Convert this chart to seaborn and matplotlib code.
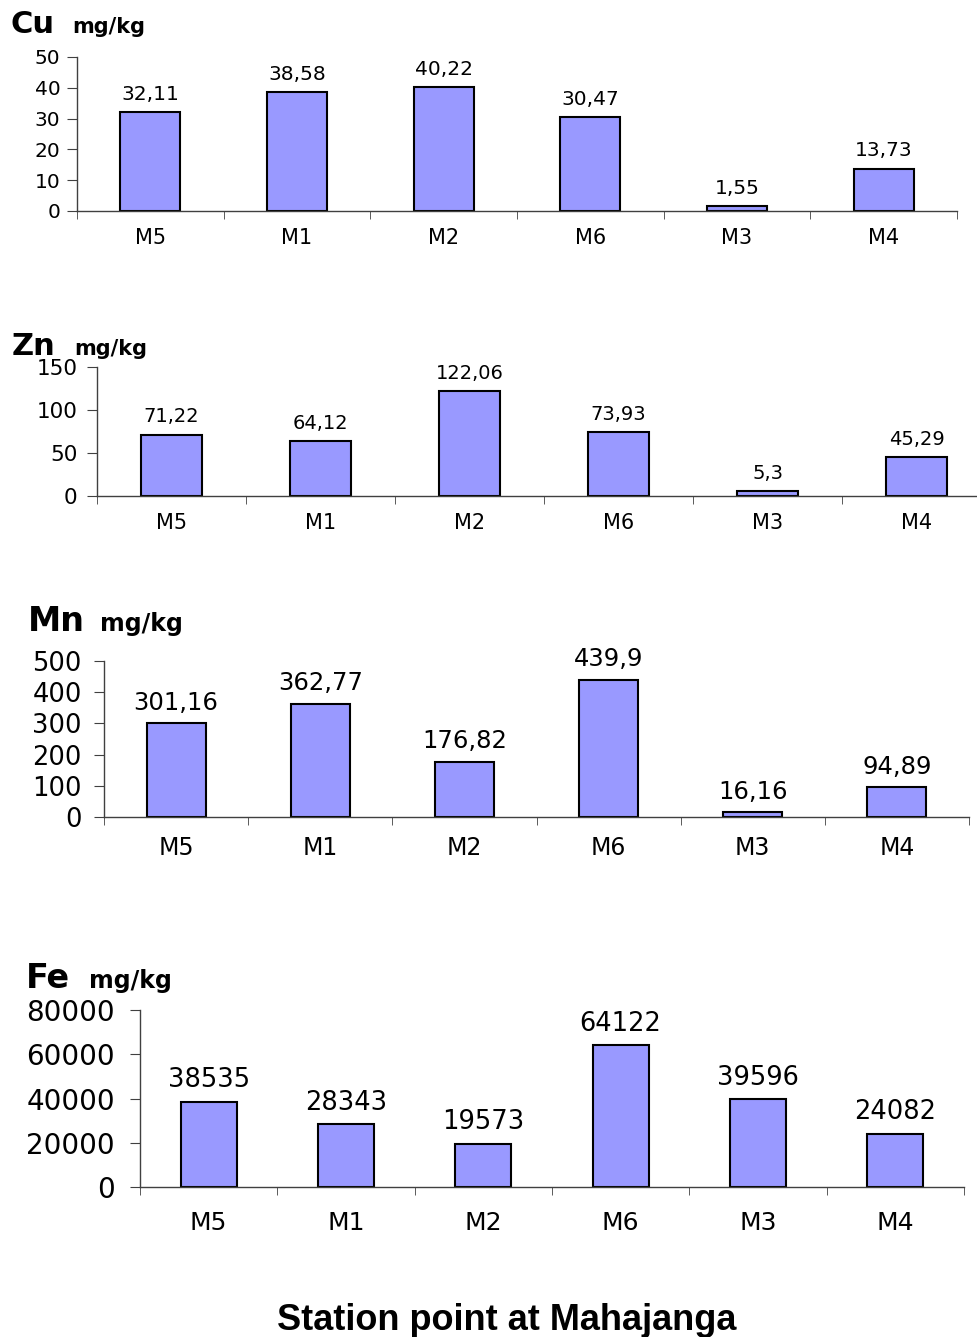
import numpy as np
import pandas as pd
import matplotlib
matplotlib.use('Agg')
import matplotlib.pyplot as plt
import seaborn as sns

# data
stations = ['M5', 'M1', 'M2', 'M6', 'M3', 'M4']
cu = [32.11, 38.58, 40.22, 30.47, 1.55, 13.73]
zn = [71.22, 64.12, 122.06, 73.93, 5.3, 45.29]
mn = [301.16, 362.77, 176.82, 439.9, 16.16, 94.89]
fe = [38535, 28343, 19573, 64122, 39596, 24082]

cu_ticks = [0, 10, 20, 30, 40, 50]
zn_ticks = [0, 50, 100, 150]
mn_ticks = [0, 100, 200, 300, 400, 500]
fe_ticks = [0, 20000, 40000, 60000, 80000]

sns.set_style('white')
plt.rcParams['font.family'] = ['DejaVu Sans']
plt.rcParams['text.color'] = 'black'
plt.rcParams['xtick.color'] = 'black'
plt.rcParams['ytick.color'] = 'black'

W, H = 977, 1337
fig = plt.figure(figsize=(W / 100, H / 100), dpi=100)


def px_axes(x0, y0, x1, y1):
    # axes from pixel box (top-left origin)
    return fig.add_axes([x0 / W, 1 - y1 / H, (x1 - x0) / W, (y1 - y0) / H])


def fmt(v):
    return str(v).replace('.', ',')


# element, values, ticks, axes box, ytick font, ytick pad, xtick font,
# value font, heading pos (x, baseline, unit x), element font, unit font, xtick pad
panels = [
    ('Cu', cu, cu_ticks, (77, 57, 957, 211), 14.5, 5, 15, 14.5, (10, 33, 72), 22, 15, 12),
    ('Zn', zn, zn_ticks, (97, 367, 991, 496), 15.5, 7, 15, 14, (12, 355, 74), 22, 15, 12),
    ('Mn', mn, mn_ticks, (104, 661, 969, 817), 18.5, 9, 17, 17.5, (28, 631, 100), 24, 17, 14),
    ('Fe', fe, fe_ticks, (140, 1010, 964, 1187), 20, 11, 18, 18.5, (26, 988, 89), 24, 17, 17),
]

for name, vals, ticks, box, yfs, ypad, xfs, lfs, tpos, efs, ufs, xpad in panels:
    ax = px_axes(*box)
    df = pd.DataFrame({'station': stations, 'value': vals})
    sns.barplot(data=df, x='station', y='value', color='#9999FF',
                edgecolor='black', linewidth=1.5, width=0.41,
                saturation=1, ax=ax)
    ax.set_xlim(-0.5, len(stations) - 0.5)
    ax.set_ylim(ticks[0], ticks[-1])
    ax.set_yticks(ticks)
    ax.set_yticklabels([str(t) for t in ticks], fontsize=yfs)
    ax.set_xlabel('')
    ax.set_ylabel('')
    ax.tick_params(axis='x', which='major', length=0, labelsize=xfs, pad=xpad)
    ax.set_xticks(np.arange(-0.5, len(stations)), minor=True)
    ax.tick_params(axis='x', which='minor', length=6, direction='out',
                   color='#404040', bottom=True)
    ax.tick_params(axis='y', length=7, direction='out', color='#404040',
                   left=True, pad=ypad)
    for s in ['top', 'right']:
        ax.spines[s].set_visible(False)
    for s in ['left', 'bottom']:
        ax.spines[s].set_color('#404040')
        ax.spines[s].set_linewidth(1.0)
    ax.bar_label(ax.containers[0], labels=[fmt(v) for v in vals],
                 padding=6, fontsize=lfs)
    ex, ey, ux = tpos
    fig.text(ex / W, 1 - ey / H, name, fontsize=efs, fontweight='bold',
             ha='left', va='baseline')
    fig.text(ux / W, 1 - ey / H, 'mg/kg', fontsize=ufs, fontweight='bold',
             ha='left', va='baseline')

fig.text(507 / W, 1 - 1330 / H, 'Station point at Mahajanga', fontsize=26,
         fontweight='bold', family='Liberation Sans', ha='center',
         va='baseline')

fig.savefig('out.png', dpi=100)
